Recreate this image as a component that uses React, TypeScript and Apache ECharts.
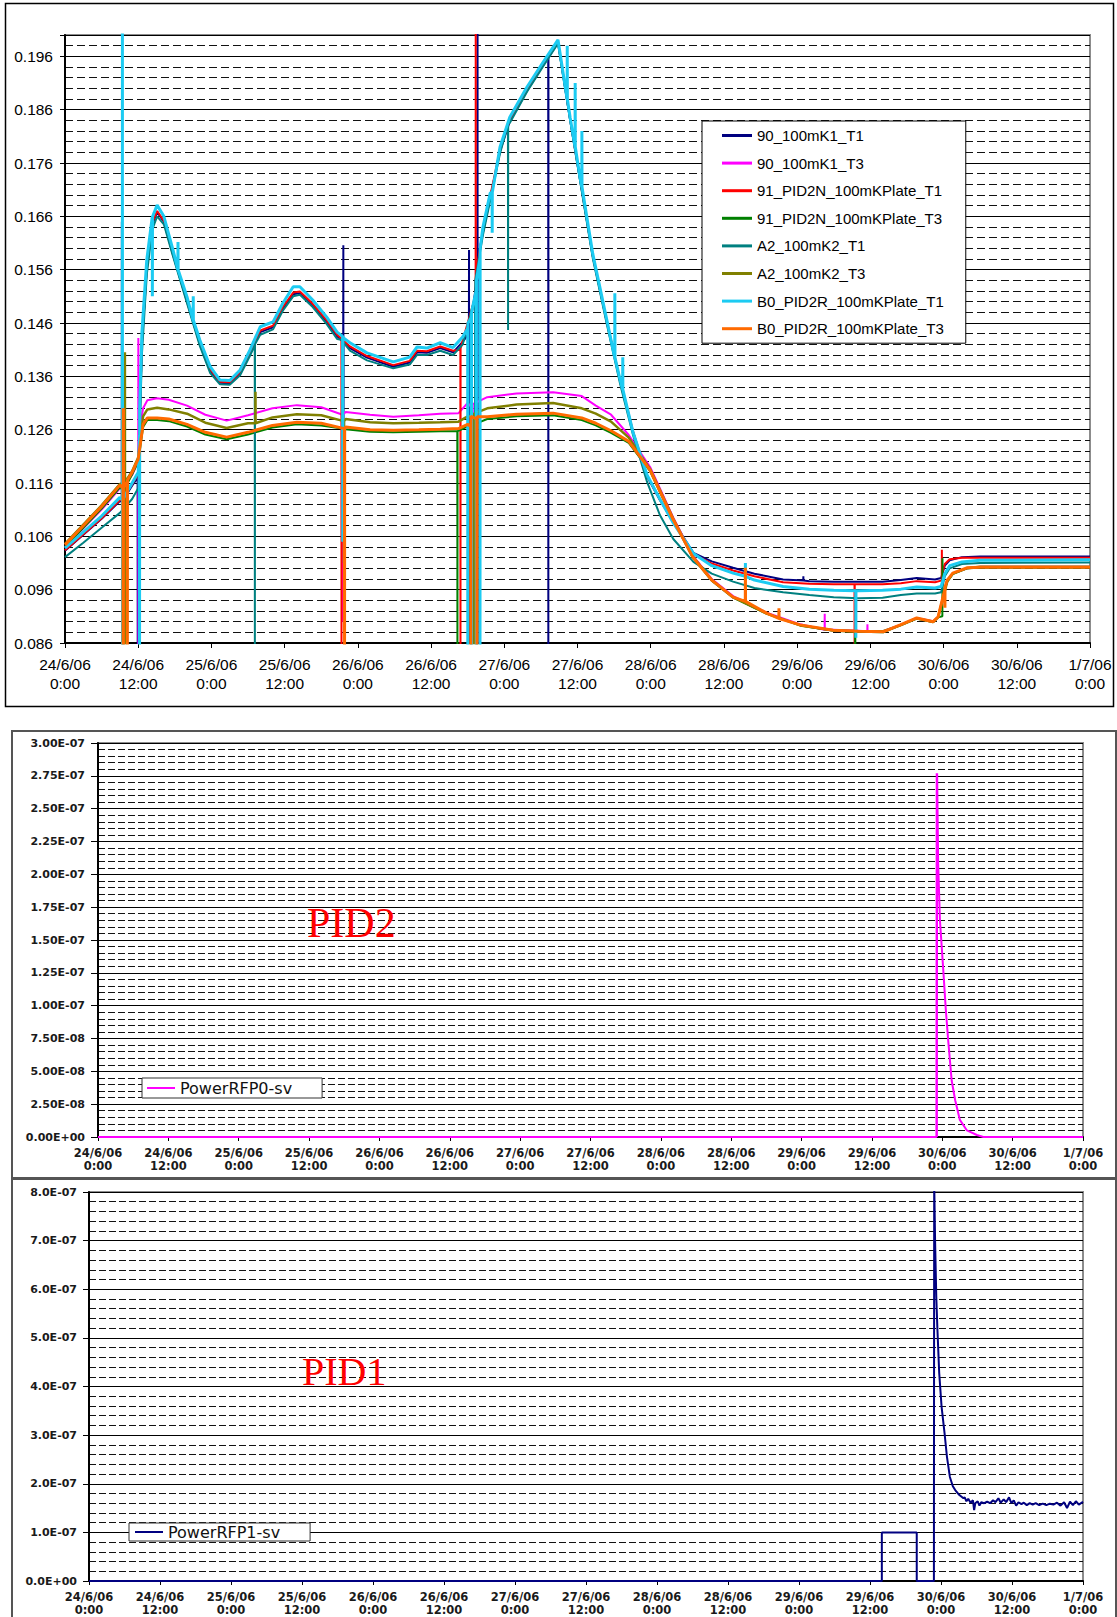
import React, { useEffect, useRef } from 'react';
import * as echarts from 'echarts';

// ---------- shared tick labels ----------
const X_LABELS = [
  '24/6/06\n0:00', '24/6/06\n12:00', '25/6/06\n0:00', '25/6/06\n12:00', '26/6/06\n0:00',
  '26/6/06\n12:00', '27/6/06\n0:00', '27/6/06\n12:00', '28/6/06\n0:00', '28/6/06\n12:00',
  '29/6/06\n0:00', '29/6/06\n12:00', '30/6/06\n0:00', '30/6/06\n12:00', '1/7/06\n0:00',
];

const NAMES = [
  '90_100mK1_T1', '90_100mK1_T3', '91_PID2N_100mKPlate_T1', '91_PID2N_100mKPlate_T3',
  'A2_100mK2_T1', 'A2_100mK2_T3', 'B0_PID2R_100mKPlate_T1', 'B0_PID2R_100mKPlate_T3',
];
const COLORS = ['#000080', '#ff00ff', '#ff0000', '#008000', '#008080', '#808000', '#1ccbf2', '#ff6a00'];
const WIDTHS = [2, 2, 2, 2, 2, 2.5, 3, 3];

// ---------- T1 sensors (hours since 24/6/06 0:00) ----------
const T1_HOURS = [
  0, 3, 6, 9, 11, 12, 12.6, 13.4, 14.3, 15.1,
  16.2, 17.7, 20, 22.1, 23.8, 25.4, 27, 28.7, 30.3, 32,
  34.1, 35.7, 37.4, 38.5, 40.6, 42.9, 44.6, 46.7, 49.5, 53.8,
  56.5, 57.7, 59.3, 61.5, 63.6, 65.2, 67, 68.5, 69.7, 71.3,
  72.9, 75.7, 78.3, 80.8, 82.8, 84.4, 86.5, 88.8, 91, 93.1,
  95.4, 97.5, 99.7, 103, 106, 109.5, 113, 117.7, 122, 126,
  130, 134, 137, 139.6, 142.6, 143.6, 144.2, 145, 147, 150,
  168,
];
const NAVY_T1 = [
  0.1033, 0.1063, 0.1093, 0.1126, 0.1155, 0.1175, 0.1420, 0.1560, 0.1645, 0.1668,
  0.1650, 0.1588, 0.1500, 0.1420, 0.1370, 0.1348, 0.1347, 0.1366, 0.1402, 0.1443,
  0.1452, 0.1487, 0.1514, 0.1516, 0.1493, 0.1462, 0.1435, 0.1413, 0.1395, 0.1378,
  0.1386, 0.1405, 0.1404, 0.1413, 0.1405, 0.1425, 0.1500, 0.1630, 0.1695, 0.1782,
  0.1838, 0.1895, 0.1942, 0.1986, 0.1840, 0.1730, 0.1585, 0.1462, 0.1350, 0.1255,
  0.1172, 0.1128, 0.1088, 0.1029, 0.1013, 0.1001, 0.0990, 0.0979, 0.0976, 0.0975,
  0.0975, 0.0975, 0.0978, 0.0982, 0.0979, 0.0982, 0.1005, 0.1015, 0.1021, 0.1022,
  0.1022,
];
const RED_T1 = [
  0.1034, 0.1064, 0.1094, 0.1128, 0.1157, 0.1177, 0.1425, 0.1565, 0.1648, 0.1670,
  0.1652, 0.1590, 0.1503, 0.1423, 0.1373, 0.1350, 0.1349, 0.1368, 0.1405, 0.1446,
  0.1455, 0.1490, 0.1517, 0.1519, 0.1496, 0.1465, 0.1438, 0.1416, 0.1398, 0.1381,
  0.1389, 0.1408, 0.1407, 0.1416, 0.1408, 0.1428, 0.1500, 0.1633, 0.1698, 0.1785,
  0.1841, 0.1898, 0.1945, 0.1988, 0.1842, 0.1732, 0.1587, 0.1464, 0.1352, 0.1257,
  0.1174, 0.1129, 0.1086, 0.1027, 0.1009, 0.0996, 0.0985, 0.0974, 0.0971, 0.0970,
  0.0970, 0.0970, 0.0972, 0.0976, 0.0974, 0.0977, 0.1008, 0.1017, 0.1020, 0.1020,
  0.1020,
];
const TEAL_T1 = [
  0.1021, 0.1048, 0.1076, 0.1104, 0.1130, 0.1150, 0.1400, 0.1550, 0.1635, 0.1660,
  0.1645, 0.1585, 0.1497, 0.1417, 0.1366, 0.1345, 0.1344, 0.1362, 0.1398, 0.1438,
  0.1448, 0.1483, 0.1510, 0.1513, 0.1490, 0.1458, 0.1430, 0.1408, 0.1390, 0.1375,
  0.1382, 0.1400, 0.1400, 0.1408, 0.1400, 0.1420, 0.1500, 0.1625, 0.1690, 0.1778,
  0.1835, 0.1893, 0.1940, 0.1984, 0.1840, 0.1728, 0.1582, 0.1458, 0.1345, 0.1250,
  0.1162, 0.1100, 0.1055, 0.1012, 0.0990, 0.0975, 0.0963, 0.0955, 0.0950, 0.0946,
  0.0944, 0.0945, 0.0950, 0.0953, 0.0953, 0.0955, 0.0985, 0.1000, 0.1008, 0.1010,
  0.1011,
];
const CYAN_T1 = [
  0.1038, 0.1068, 0.1098, 0.1133, 0.1160, 0.1180, 0.1441, 0.1578, 0.1659, 0.1681,
  0.1660, 0.1597, 0.1509, 0.1428, 0.1378, 0.1353, 0.1352, 0.1372, 0.1409, 0.1453,
  0.1462, 0.1497, 0.1528, 0.1528, 0.1503, 0.1471, 0.1443, 0.1423, 0.1404, 0.1387,
  0.1396, 0.1415, 0.1413, 0.1423, 0.1414, 0.1434, 0.1500, 0.1640, 0.1704, 0.1790,
  0.1846, 0.1902, 0.1948, 0.1991, 0.1845, 0.1734, 0.1590, 0.1466, 0.1353, 0.1255,
  0.1175, 0.1130, 0.1085, 0.1028, 0.1005, 0.0991, 0.0978, 0.0966, 0.0961, 0.0959,
  0.0958, 0.0959, 0.0961, 0.0965, 0.0963, 0.0966, 0.0990, 0.1005, 0.1012, 0.1015,
  0.1016,
];

// ---------- T3 sensors ----------
const T3_HOURS = [
  0, 3, 6, 9, 11, 12, 12.8, 13.5, 15.1, 17,
  20, 23, 26.5, 30, 34, 38, 42, 46, 50, 53.8,
  58, 61.5, 64.5, 66, 69.2, 74, 80, 84.7, 87, 89.5,
  92.4, 95.9, 99.7, 102.9, 106, 109.5, 115, 120.5, 125.9, 130,
  134.1, 136.9, 139.6, 142.3, 143.1, 144.6, 145.5, 147.8, 150, 168,
];
const MAGENTA_T3 = [
  0.1040, 0.1075, 0.1110, 0.1150, 0.1175, 0.1200, 0.1300, 0.1315, 0.1319, 0.1316,
  0.1305, 0.1288, 0.1277, 0.1287, 0.1300, 0.1306, 0.1302, 0.1293, 0.1288, 0.1284,
  0.1287, 0.1290, 0.1291, 0.1310, 0.1321, 0.1328, 0.1330, 0.1323, 0.1305, 0.1288,
  0.1250, 0.1190, 0.1095, 0.1024, 0.0980, 0.0948, 0.0917, 0.0895, 0.0885, 0.0883,
  0.0882, 0.0894, 0.0907, 0.0901, 0.0909, 0.0978, 0.0990, 0.1000, 0.1003, 0.1003,
];
const GREEN_T3 = [
  0.1040, 0.1076, 0.1112, 0.1152, 0.1176, 0.1200, 0.1265, 0.1278, 0.1278, 0.1276,
  0.1266, 0.1251, 0.1242, 0.1251, 0.1264, 0.1270, 0.1268, 0.1261, 0.1256, 0.1255,
  0.1256, 0.1257, 0.1258, 0.1266, 0.1280, 0.1285, 0.1287, 0.1278, 0.1268, 0.1254,
  0.1235, 0.1182, 0.1090, 0.1020, 0.0977, 0.0945, 0.0915, 0.0893, 0.0883, 0.0881,
  0.0880, 0.0893, 0.0906, 0.0899, 0.0908, 0.0975, 0.0989, 0.1000, 0.1001, 0.1001,
];
const OLIVE_T3 = [
  0.1046, 0.1082, 0.1118, 0.1158, 0.1182, 0.1208, 0.1285, 0.1298, 0.1301, 0.1298,
  0.1290, 0.1273, 0.1263, 0.1272, 0.1283, 0.1289, 0.1287, 0.1280, 0.1274, 0.1272,
  0.1273, 0.1274, 0.1275, 0.1285, 0.1300, 0.1307, 0.1310, 0.1300, 0.1290, 0.1275,
  0.1245, 0.1186, 0.1093, 0.1022, 0.0978, 0.0946, 0.0915, 0.0893, 0.0884, 0.0882,
  0.0882, 0.0893, 0.0906, 0.0900, 0.0908, 0.0975, 0.0990, 0.1000, 0.1003, 0.1003,
];
const ORANGE_T3 = [
  0.1044, 0.1080, 0.1116, 0.1156, 0.1180, 0.1205, 0.1270, 0.1282, 0.1282, 0.1280,
  0.1270, 0.1255, 0.1246, 0.1255, 0.1268, 0.1274, 0.1272, 0.1265, 0.1260, 0.1259,
  0.1260, 0.1261, 0.1262, 0.1270, 0.1284, 0.1289, 0.1291, 0.1282, 0.1272, 0.1258,
  0.1238, 0.1184, 0.1091, 0.1021, 0.0978, 0.0946, 0.0916, 0.0894, 0.0884, 0.0882,
  0.0881, 0.0894, 0.0907, 0.0900, 0.0909, 0.0978, 0.0991, 0.1001, 0.1002, 0.1002,
];

// ---------- glitch spikes [hour, value] ----------
const NAVY_SPIKES = [
  [9.30, 0.1125], [9.32, 0.1650], [9.34, 0.1125],
  [11.90, 0.1170], [11.92, 0.08], [11.94, 0.1172],
  [45.60, 0.1425], [45.62, 0.1606], [45.64, 0.1060], [45.66, 0.1425],
  [66.20, 0.1440], [66.22, 0.1597], [66.24, 0.08], [66.26, 0.1450],
  [67.60, 0.1550], [67.62, 0.21], [67.64, 0.08], [67.66, 0.1580],
  [79.20, 0.1958], [79.22, 0.08], [79.24, 0.1958],
  [121.00, 0.0977], [121.02, 0.0985], [121.04, 0.0977],
];
const MAGENTA_SPIKES = [
  [12.00, 0.1205], [12.02, 0.1432], [12.04, 0.08], [12.06, 0.1250],
  [45.50, 0.1288], [45.52, 0.0900], [45.54, 0.1288],
  [66.80, 0.1300], [66.82, 0.08], [66.84, 0.1308],
  [124.50, 0.0885], [124.52, 0.0915], [124.54, 0.0885],
  [131.50, 0.0882], [131.52, 0.0895], [131.54, 0.0882],
];
const RED_SPIKES = [
  [45.30, 0.1431], [45.32, 0.08], [45.34, 0.1430],
  [64.80, 0.1410], [64.82, 0.08], [64.84, 0.1412],
  [67.30, 0.1500], [67.32, 0.21], [67.34, 0.1550],
  [129.40, 0.0970], [129.42, 0.08], [129.44, 0.0970],
  [143.70, 0.0978], [143.72, 0.1035], [143.74, 0.0990],
];
const GREEN_SPIKES = [
  [9.60, 0.1145], [9.62, 0.08], [9.64, 0.1147],
  [64.30, 0.1257], [64.32, 0.08], [64.34, 0.1257],
  [66.60, 0.1265], [66.62, 0.1415], [66.64, 0.08], [66.66, 0.1268],
  [129.50, 0.0881], [129.52, 0.08], [129.54, 0.0881],
  [143.80, 0.0910], [143.82, 0.1019], [143.84, 0.0950],
];
const TEAL_SPIKES = [
  [31.10, 0.1418], [31.12, 0.08], [31.14, 0.1420],
  [45.50, 0.1428], [45.52, 0.1200], [45.54, 0.1425],
  [67.20, 0.1500], [67.22, 0.08], [67.24, 0.1540],
  [72.60, 0.1832], [72.62, 0.1447], [72.64, 0.1835],
];
const OLIVE_SPIKES = [
  [9.80, 0.1160], [9.82, 0.1405], [9.84, 0.08], [9.86, 0.1162],
  [31.20, 0.1272], [31.22, 0.1331], [31.24, 0.1272],
  [45.70, 0.1276], [45.72, 0.1010], [45.74, 0.1276],
  [67.00, 0.1285], [67.02, 0.08], [67.04, 0.1290],
];
const CYAN_SPIKES = [
  [9.40, 0.1128], [9.41, 0.21], [9.42, 0.08], [9.43, 0.1128],
  [12.20, 0.1250], [12.22, 0.08], [12.24, 0.1300],
  [14.30, 0.1659], [14.32, 0.1510], [14.34, 0.1659],
  [18.50, 0.1560], [18.52, 0.1612], [18.54, 0.1560],
  [21.00, 0.1465], [21.02, 0.1510], [21.04, 0.1465],
  [45.50, 0.1435], [45.52, 0.1050], [45.54, 0.1433],
  [66.00, 0.1450], [66.02, 0.08], [66.04, 0.1460],
  [66.60, 0.1470], [66.62, 0.08], [66.64, 0.1480],
  [67.40, 0.1520], [67.42, 0.08], [67.44, 0.1540],
  [68.00, 0.1580], [68.02, 0.08], [68.04, 0.1600],
  [70.00, 0.1705], [70.02, 0.1629], [70.04, 0.1705],
  [82.30, 0.1880], [82.32, 0.1980], [82.34, 0.1880],
  [83.60, 0.1790], [83.62, 0.1910], [83.64, 0.1790],
  [84.70, 0.1715], [84.72, 0.1820], [84.74, 0.1715],
  [90.10, 0.1395], [90.12, 0.1516], [90.14, 0.1395],
  [91.40, 0.1335], [91.42, 0.1396], [91.44, 0.1335],
  [111.50, 0.0985], [111.52, 0.1010], [111.54, 0.0985],
  [129.60, 0.0958], [129.62, 0.0870], [129.64, 0.0958],
];
const ORANGE_SPIKES = [
  [9.50, 0.1150], [9.52, 0.08], [9.54, 0.1300], [9.56, 0.08], [9.58, 0.1300], [9.60, 0.1152],
  [10.20, 0.1162], [10.22, 0.08], [10.24, 0.1165],
  [45.80, 0.1262], [45.82, 0.08], [45.84, 0.1262],
  [66.50, 0.1266], [66.52, 0.08], [66.54, 0.1285],
  [67.50, 0.1280], [67.52, 0.08], [67.54, 0.1284],
  [111.50, 0.0938], [111.52, 0.1001], [111.54, 0.0938],
  [117.00, 0.0906], [117.02, 0.0925], [117.04, 0.0906],
  [144.20, 0.0960], [144.22, 0.0926], [144.24, 0.0965],
];

// ---------- heater powers [hour, W] ----------
const PID2_POWER = [
  [0, 0], [143.0, 0], [143.05, 2.77e-7], [143.08, 0], [143.12, 2.77e-7], [143.3, 2.08e-7],
  [143.6, 1.65e-7], [144.2, 1.25e-7], [144.6, 0.97e-7], [145.0, 0.74e-7], [145.6, 0.43e-7],
  [146.2, 0.28e-7], [147.0, 0.13e-7], [148.2, 0.05e-7], [149.9, 0.015e-7], [151, 0], [168, 0],
];
const PID1_POWER = [
  [0, 0], [134.0, 0], [134.0, 1.0e-7], [139.9, 1.0e-7], [139.9, 0], [142.8, 0],
  [142.85, 8.2e-7], [143.0, 7.0e-7], [143.2, 5.85e-7], [143.4, 5.16e-7], [143.7, 4.27e-7],
  [144.1, 3.58e-7], [144.6, 3.04e-7], [145.0, 2.56e-7], [145.5, 2.14e-7], [146.0, 1.95e-7],
  [146.4, 1.87e-7], [147.0, 1.78e-7], [147.8, 1.70e-7], [148.0, 1.72e-7], [148.3, 1.64e-7],
  [148.6, 1.69e-7], [149.0, 1.61e-7], [149.4, 1.66e-7], [149.6, 1.46e-7], [149.8, 1.60e-7],
  [150.2, 1.64e-7], [150.5, 1.55e-7], [150.8, 1.62e-7], [151.3, 1.60e-7], [151.8, 1.63e-7],
  [152.3, 1.60e-7], [152.8, 1.66e-7], [153.2, 1.62e-7], [153.7, 1.70e-7], [154.1, 1.61e-7],
  [154.6, 1.68e-7], [155.0, 1.62e-7], [155.5, 1.72e-7], [155.9, 1.60e-7], [156.3, 1.66e-7],
  [156.7, 1.55e-7], [157.1, 1.62e-7], [157.6, 1.58e-7], [158.0, 1.61e-7], [158.5, 1.56e-7],
  [159.0, 1.60e-7], [159.5, 1.57e-7], [160.0, 1.60e-7], [160.6, 1.56e-7], [161.2, 1.59e-7],
  [161.8, 1.56e-7], [162.4, 1.59e-7], [163.0, 1.57e-7], [163.6, 1.61e-7], [164.2, 1.55e-7],
  [164.8, 1.62e-7], [165.3, 1.50e-7], [165.8, 1.63e-7], [166.3, 1.56e-7], [166.8, 1.64e-7],
  [167.3, 1.57e-7], [168.0, 1.63e-7],
];

const TOP_Y_TICKS = [0.086, 0.096, 0.106, 0.116, 0.126, 0.136, 0.146, 0.156, 0.166, 0.176, 0.186, 0.196];

function zip(hours: number[], vals: number[]) {
  const n = Math.min(hours.length, vals.length);
  const out: number[][] = [];
  for (let i = 0; i < n; i++) out.push([hours[i], vals[i]]);
  return out;
}
function merge(base: number[][], spikes: number[][]) {
  return [...base, ...spikes].sort((a, b) => a[0] - b[0]);
}
function sci(v: number, digits: number) {
  const s = v.toExponential(digits);
  const [m, e] = s.split('e');
  const sign = e[0] === '-' ? '-' : '+';
  const num = e.replace(/[+-]/, '').padStart(2, '0');
  return `${m}E${sign}${num}`;
}
const xLabel = (v: number) => X_LABELS[Math.round(v / 12)] ?? '';

export default function App() {
  const ref = useRef<HTMLDivElement>(null);
  useEffect(() => {
    if (!ref.current) return;
    const chart = echarts.init(ref.current, undefined, { renderer: 'svg' });

    const topData = [
      merge(zip(T1_HOURS, NAVY_T1), NAVY_SPIKES),
      merge(zip(T3_HOURS, MAGENTA_T3), MAGENTA_SPIKES),
      merge(zip(T1_HOURS, RED_T1), RED_SPIKES),
      merge(zip(T3_HOURS, GREEN_T3), GREEN_SPIKES),
      merge(zip(T1_HOURS, TEAL_T1), TEAL_SPIKES),
      merge(zip(T3_HOURS, OLIVE_T3), OLIVE_SPIKES),
      merge(zip(T1_HOURS, CYAN_T1), CYAN_SPIKES),
      merge(zip(T3_HOURS, ORANGE_T3), ORANGE_SPIKES),
    ];

    const smallLabel = { fontFamily: 'DejaVu Sans', fontWeight: 'bold' as const, color: '#1a1a1a' };

    const xAxisBase = (gridIndex: number, big: boolean) => ({
      type: 'value',
      gridIndex,
      min: 0,
      max: 168,
      interval: 12,
      splitLine: { show: false },
      axisLine: { lineStyle: { color: '#000', width: 2 } },
      axisTick: { length: big ? 5 : 4, lineStyle: { color: '#000', width: 1 } },
      axisLabel: big
        ? { formatter: xLabel, fontFamily: 'Liberation Sans', fontSize: 15.5, color: '#000', lineHeight: 19, margin: 12 }
        : { formatter: xLabel, ...smallLabel, fontSize: 11.5, lineHeight: 13, margin: 9 },
    });

    const minorY = (gridIndex: number, min: number, max: number, interval: number, dash: number[]) => ({
      type: 'value',
      gridIndex,
      min,
      max,
      interval,
      position: 'right',
      axisLine: { show: false },
      axisTick: { show: false },
      axisLabel: { show: false },
      splitLine: { show: true, lineStyle: { color: '#111', width: 1, type: dash } },
    });

    const option: any = {
      animation: false,
      backgroundColor: '#ffffff',
      grid: [
        { left: 65, top: 35, width: 1025, height: 608, show: true, borderColor: '#8c8c8c', borderWidth: 2 },
        { left: 98, top: 743, width: 985, height: 394, show: true, borderColor: '#8c8c8c', borderWidth: 2 },
        { left: 89, top: 1192, width: 994, height: 389, show: true, borderColor: '#8c8c8c', borderWidth: 2 },
      ],
      xAxis: [xAxisBase(0, true), xAxisBase(1, false), xAxisBase(2, false)],
      yAxis: [
        minorY(0, 0.086, 0.2, 0.002, [8, 4]),
        {
          type: 'value', gridIndex: 0, min: 0.086, max: 0.2, interval: 0.01, position: 'left',
          axisLine: { show: true, lineStyle: { color: '#000', width: 2 } },
          axisTick: { show: true, length: 5, lineStyle: { color: '#000' } },
          splitLine: { show: true, lineStyle: { color: '#000', width: 1 } },
          axisLabel: {
            margin: 12, fontFamily: 'Liberation Sans', fontSize: 15.5, color: '#000',
            formatter: (v: number) => {
              const t = TOP_Y_TICKS.find((k) => Math.abs(k - v) < 1e-6);
              return t === undefined ? '' : t.toFixed(3);
            },
          },
        },
        minorY(1, 0, 3e-7, 5e-9, [7, 3]),
        {
          type: 'value', gridIndex: 1, min: 0, max: 3e-7, interval: 2.5e-8, position: 'left',
          axisLine: { show: true, lineStyle: { color: '#000', width: 2 } },
          axisTick: { show: true, length: 7, lineStyle: { color: '#000' } },
          splitLine: { show: true, lineStyle: { color: '#000', width: 1 } },
          axisLabel: { margin: 13, ...smallLabel, fontSize: 11, formatter: (v: number) => sci(v, 2) },
        },
        minorY(2, 0, 8e-7, 2e-8, [7, 3]),
        {
          type: 'value', gridIndex: 2, min: 0, max: 8e-7, interval: 1e-7, position: 'left',
          axisLine: { show: true, lineStyle: { color: '#000', width: 2 } },
          axisTick: { show: true, length: 6, lineStyle: { color: '#000' } },
          splitLine: { show: true, lineStyle: { color: '#000', width: 1 } },
          axisLabel: { margin: 12, ...smallLabel, fontSize: 11, formatter: (v: number) => sci(v, 1) },
        },
      ],
      legend: [
        {
          data: NAMES, orient: 'vertical', left: 702, top: 121,
          icon: 'rect', itemWidth: 30, itemHeight: 3, itemGap: 12.6,
          padding: [7, 22, 7, 20], backgroundColor: '#fff', borderColor: '#000', borderWidth: 1,
          textStyle: { fontFamily: 'Liberation Sans', fontSize: 15, color: '#000' },
          selectedMode: false,
        },
        {
          data: ['PowerRFP0-sv'], left: 142, top: 1078, icon: 'rect', itemWidth: 28, itemHeight: 2,
          padding: [2, 30, 2, 5], backgroundColor: '#fff', borderColor: '#333', borderWidth: 1,
          textStyle: { fontFamily: 'DejaVu Sans', fontSize: 16, color: '#111' }, selectedMode: false,
        },
        {
          data: ['PowerRFP1-sv'], left: 129, top: 1523, icon: 'rect', itemWidth: 28, itemHeight: 2,
          padding: [1, 30, 1, 6], backgroundColor: '#fff', borderColor: '#333', borderWidth: 1,
          textStyle: { fontFamily: 'DejaVu Sans', fontSize: 16, color: '#111' }, selectedMode: false,
        },
      ],
      series: [
        ...NAMES.map((name, i) => ({
          name, type: 'line', xAxisIndex: 0, yAxisIndex: 1, data: topData[i],
          symbol: 'none', showSymbol: false, clip: true, silent: true,
          color: COLORS[i], lineStyle: { color: COLORS[i], width: WIDTHS[i] },
        })),
        {
          name: 'PowerRFP0-sv', type: 'line', xAxisIndex: 1, yAxisIndex: 3, data: PID2_POWER,
          symbol: 'none', showSymbol: false, clip: true, silent: true,
          color: '#ff00ff', lineStyle: { color: '#ff00ff', width: 2 },
        },
        {
          name: 'PowerRFP1-sv', type: 'line', xAxisIndex: 2, yAxisIndex: 5, data: PID1_POWER,
          symbol: 'none', showSymbol: false, clip: true, silent: true,
          color: '#000080', lineStyle: { color: '#000080', width: 2 },
        },
      ],
      graphic: [
        { type: 'rect', shape: { x: 5.5, y: 3.5, width: 1108, height: 703 }, style: { fill: 'none', stroke: '#000', lineWidth: 1.5 }, silent: true },
        { type: 'rect', shape: { x: 12, y: 731, width: 1104, height: 447 }, style: { fill: 'none', stroke: '#555', lineWidth: 2 }, silent: true },
        { type: 'rect', shape: { x: 12, y: 1179, width: 1104, height: 445 }, style: { fill: 'none', stroke: '#555', lineWidth: 2 }, silent: true },
        {
          type: 'text', x: 307, y: 923, silent: true, z: 10,
          style: { text: 'PID2', font: '42px "Liberation Serif"', fill: '#ff0000', textAlign: 'left', textVerticalAlign: 'middle', align: 'left', verticalAlign: 'middle' },
        },
        {
          type: 'text', x: 302, y: 1371, silent: true, z: 10,
          style: { text: 'PID1', font: '40px "Liberation Serif"', fill: '#ff0000', textAlign: 'left', textVerticalAlign: 'middle', align: 'left', verticalAlign: 'middle' },
        },
      ],
    };

    chart.setOption(option);
    return () => chart.dispose();
  }, []);

  return (
    <div
      ref={ref}
      style={{ position: 'absolute', left: 0, top: 0, width: 1117, height: 1617, background: '#fff' }}
    />
  );
}
